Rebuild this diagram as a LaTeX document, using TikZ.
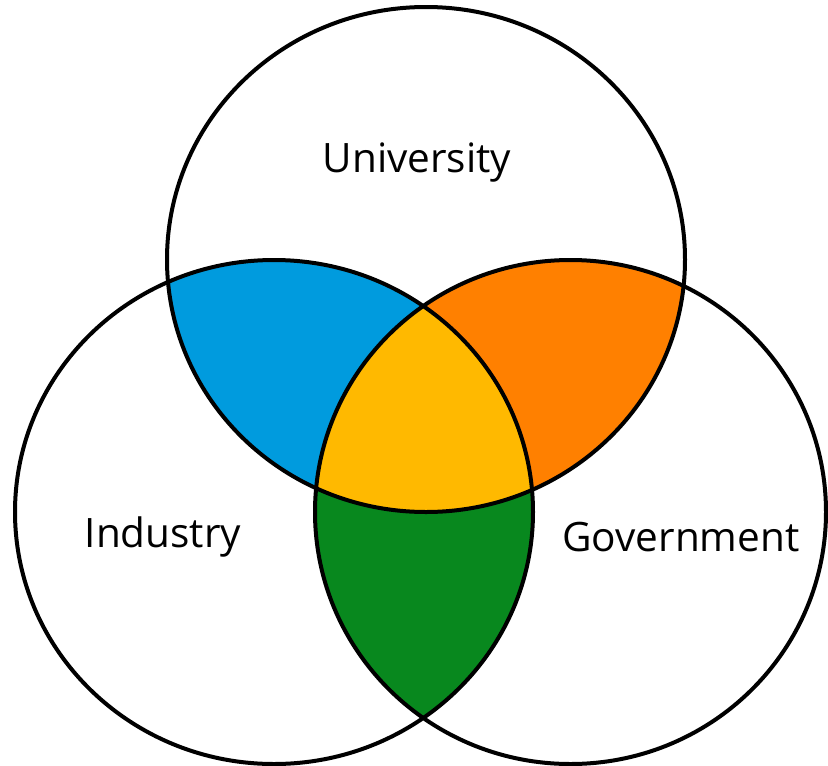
\documentclass[tikz,border=0pt]{standalone}
\usepackage{fontspec}
\setmainfont{Open Sans}
\definecolor{vblue}{RGB}{0,155,222}
\definecolor{vorange}{RGB}{255,128,0}
\definecolor{vyellow}{RGB}{255,185,0}
\definecolor{vgreen}{RGB}{8,136,30}
\begin{document}
\begin{tikzpicture}[x=1pt,y=-1pt,
  ring/.style={draw=black,line width=4pt},
  lbl/.style={font=\fontsize{40.5}{44}\selectfont,text=black,inner sep=0pt}]
\useasboundingbox[fill=white] (0,0) rectangle (828,766);
% University & Industry
\begin{scope}
  \clip (426,259.5) ellipse [x radius=259, y radius=252.5];
  \fill[vblue] (274,512) ellipse [x radius=259, y radius=252];
\end{scope}
% University & Government
\begin{scope}
  \clip (426,259.5) ellipse [x radius=259, y radius=252.5];
  \fill[vorange] (570.5,512) ellipse [x radius=255.5, y radius=252];
\end{scope}
% Industry & Government
\begin{scope}
  \clip (274,512) ellipse [x radius=259, y radius=252];
  \fill[vgreen] (570.5,512) ellipse [x radius=255.5, y radius=252];
\end{scope}
% all three
\begin{scope}
  \clip (426,259.5) ellipse [x radius=259, y radius=252.5];
  \clip (274,512) ellipse [x radius=259, y radius=252];
  \fill[vyellow] (570.5,512) ellipse [x radius=255.5, y radius=252];
\end{scope}
\draw[ring] (426,259.5) ellipse [x radius=259, y radius=252.5];
\draw[ring] (274,512) ellipse [x radius=259, y radius=252];
\draw[ring] (570.5,512) ellipse [x radius=255.5, y radius=252];
\node[lbl] (uni) at (417,163) {University};
\node[lbl] (ind) at (163,537) {Industry};
\node[lbl] (gov) at (681,537) {Government};
\end{tikzpicture}
\end{document}
